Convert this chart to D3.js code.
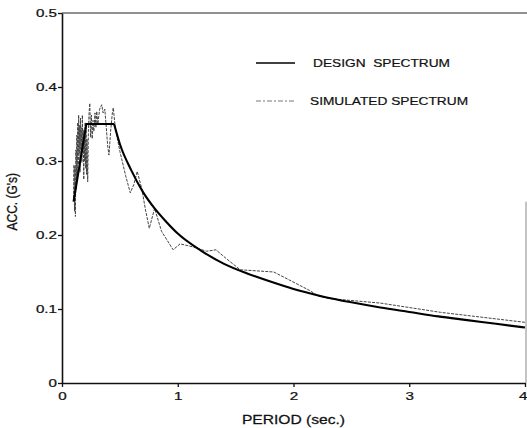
<!DOCTYPE html>
<html>
<head>
<meta charset="utf-8">
<script src="https://cdn.jsdelivr.net/npm/d3@7/dist/d3.min.js"></script>
<style>
  html, body { margin: 0; padding: 0; background: #fff; }
  svg { display: block; }
  text { font-family: "Liberation Sans", Arial, Helvetica, sans-serif; fill: #111; }
</style>
</head>
<body>
<svg id="chart" width="527" height="428"></svg>
<script>
// Design response spectrum (period in s, spectral acceleration in g)
const designPeriod = [0.10, 0.21, 0.45, 0.50, 0.60, 0.70, 0.80, 0.90, 1.00, 1.20, 1.40, 1.60, 1.80, 2.00, 2.25, 2.50, 2.75, 3.00, 3.25, 3.50, 3.75, 4.00];
const designAcc    = [0.245, 0.350, 0.350, 0.323, 0.287, 0.258, 0.236, 0.218, 0.202, 0.179, 0.161, 0.148, 0.137, 0.127, 0.117, 0.109, 0.102, 0.096, 0.090, 0.085, 0.080, 0.075];

// Spectrum of the simulated ground motion
const simPeriod = [0.100, 0.104, 0.108, 0.112, 0.116, 0.120, 0.124, 0.128, 0.132, 0.136, 0.140, 0.144, 0.148, 0.152, 0.156, 0.160, 0.164, 0.168, 0.172, 0.176, 0.180, 0.184, 0.188, 0.192, 0.196, 0.200, 0.204, 0.208, 0.212, 0.216, 0.222, 0.228, 0.234, 0.240, 0.247, 0.254, 0.261, 0.268, 0.275, 0.285, 0.293, 0.300, 0.310, 0.325, 0.343, 0.355, 0.370, 0.385, 0.395, 0.406, 0.420, 0.435, 0.443, 0.460, 0.500, 0.550, 0.590, 0.620, 0.650, 0.690, 0.720, 0.754, 0.800, 0.860, 0.960, 1.020, 1.130, 1.250, 1.330, 1.420, 1.540, 1.830, 2.140, 2.220, 2.320, 2.750, 3.270, 4.000];
const simAcc    = [0.250, 0.295, 0.232, 0.292, 0.225, 0.315, 0.262, 0.335, 0.280, 0.352, 0.295, 0.362, 0.310, 0.348, 0.285, 0.358, 0.315, 0.345, 0.298, 0.362, 0.312, 0.342, 0.275, 0.338, 0.300, 0.352, 0.290, 0.345, 0.282, 0.330, 0.272, 0.340, 0.365, 0.378, 0.332, 0.362, 0.330, 0.355, 0.340, 0.365, 0.345, 0.367, 0.350, 0.370, 0.376, 0.365, 0.370, 0.340, 0.320, 0.308, 0.340, 0.365, 0.372, 0.345, 0.313, 0.280, 0.257, 0.268, 0.286, 0.262, 0.235, 0.209, 0.236, 0.205, 0.180, 0.188, 0.184, 0.178, 0.180, 0.168, 0.153, 0.150, 0.125, 0.117, 0.114, 0.108, 0.0955, 0.082];

const xTicks = [0, 1, 2, 3, 4];
const yTicks = [0, 0.1, 0.2, 0.3, 0.4, 0.5];
const xTickLabels = ["0", "1", "2", "3", "4"];
const yTickLabels = ["0", "0.1", "0.2", "0.3", "0.4", "0.5"];

const legendLabels = ["DESIGN  SPECTRUM", "SIMULATED SPECTRUM"];

const svg = d3.select("#chart");
const W = 527, H = 428;
const m = { left: 62, right: 2, top: 13, bottom: 45 };
const stretch = 1.32;   // lettering is set wide

svg.append("rect").attr("width", W).attr("height", H).attr("fill", "#fff");

const x = d3.scaleLinear().domain([0, 4]).range([m.left, 525]);
const y = d3.scaleLinear().domain([0, 0.5]).range([H - m.bottom, m.top]);

// frame: top rule and faint right rule
svg.append("line")
  .attr("x1", x(0)).attr("x2", W).attr("y1", y(0.5)).attr("y2", y(0.5))
  .attr("stroke", "#222").attr("stroke-width", 1.1);
svg.append("line")
  .attr("x1", 526).attr("x2", 526).attr("y1", y(0.245)).attr("y2", y(0))
  .attr("stroke", "#888").attr("stroke-width", 1);

// axes
const xAxis = d3.axisBottom(x).tickValues(xTicks)
  .tickFormat((d, i) => xTickLabels[i]).tickSize(4).tickSizeOuter(0).tickPadding(5);
const yAxis = d3.axisLeft(y).tickValues(yTicks)
  .tickFormat((d, i) => yTickLabels[i]).tickSize(4).tickSizeOuter(0);

const gx = svg.append("g").attr("transform", `translate(0,${y(0)})`).call(xAxis);
const gy = svg.append("g").attr("transform", `translate(${x(0)},0)`).call(yAxis);

[gx, gy].forEach(g => {
  g.select(".domain").attr("stroke", "#111").attr("stroke-width", 1.6);
  g.selectAll(".tick line").attr("stroke", "#111").attr("stroke-width", 1.3);
  g.selectAll(".tick text")
    .attr("font-family", "'Liberation Sans', Arial, sans-serif")
    .attr("font-size", 11.5).attr("fill", "#111")
    .attr("stroke", "#111").attr("stroke-width", 0.25);
});
gx.selectAll(".tick text").attr("transform", `scale(${stretch},1)`);
// last period label sits at the right edge: keep it inside the frame
gx.selectAll(".tick text").filter(d => d === 4)
  .attr("text-anchor", "end").attr("x", 1.5);
gy.selectAll(".tick text")
  .attr("x", 0)
  .attr("transform", `translate(-5,0) scale(${stretch},1)`);

// axis titles
svg.append("g")
  .attr("transform", `translate(${(x(0) + 525) / 2},424) scale(1.25,1)`)
  .append("text")
  .attr("text-anchor", "middle")
  .attr("font-size", 12.5)
  .attr("stroke", "#111").attr("stroke-width", 0.25)
  .text("PERIOD (sec.)");

svg.append("g")
  .attr("transform", `translate(17,${y(0.245)}) scale(1.25,1) rotate(-90)`)
  .append("text")
  .attr("text-anchor", "middle")
  .attr("font-size", 12)
  .attr("stroke", "#111").attr("stroke-width", 0.25)
  .text("ACC. (G's)");

// curves
const design = designPeriod.map((p, i) => ({ p, a: designAcc[i] }));
const sim = simPeriod.map((p, i) => ({ p, a: simAcc[i] }));

const line = curve => d3.line().x(d => x(d.p)).y(d => y(d.a)).curve(curve);

svg.append("path")
  .datum(sim)
  .attr("d", line(d3.curveLinear))
  .attr("fill", "none")
  .attr("stroke", "#444")
  .attr("stroke-width", 1)
  .attr("stroke-dasharray", "3,1.2")
  .attr("stroke-linejoin", "round");

// design: linear ramp and plateau, smooth descending branch
const plateauEnd = 2;
svg.append("path")
  .datum(design.slice(0, plateauEnd + 1))
  .attr("d", line(d3.curveLinear))
  .attr("fill", "none").attr("stroke", "#000").attr("stroke-width", 2.1);
svg.append("path")
  .datum(design.slice(plateauEnd))
  .attr("d", line(d3.curveMonotoneX))
  .attr("fill", "none").attr("stroke", "#000").attr("stroke-width", 2.1);

// legend
const legend = svg.append("g");
const legendRows = [
  { label: legendLabels[0], tx: 313, y: 63, stroke: "#000", width: 1.3, dash: null },
  { label: legendLabels[1], tx: 310, y: 101, stroke: "#777", width: 1, dash: "5,2,2,2" }
];
legendRows.forEach(r => {
  legend.append("line")
    .attr("x1", 256).attr("x2", 295).attr("y1", r.y).attr("y2", r.y)
    .attr("stroke", r.stroke).attr("stroke-width", r.width)
    .attr("stroke-dasharray", r.dash);
  legend.append("g")
    .attr("transform", `translate(${r.tx},${r.y + 4}) scale(1.27,1)`)
    .append("text")
    .attr("font-size", 10.8)
    .attr("stroke", "#111").attr("stroke-width", 0.2)
    .attr("xml:space", "preserve")
    .style("white-space", "pre")
    .text(r.label);
});
</script>
</body>
</html>
